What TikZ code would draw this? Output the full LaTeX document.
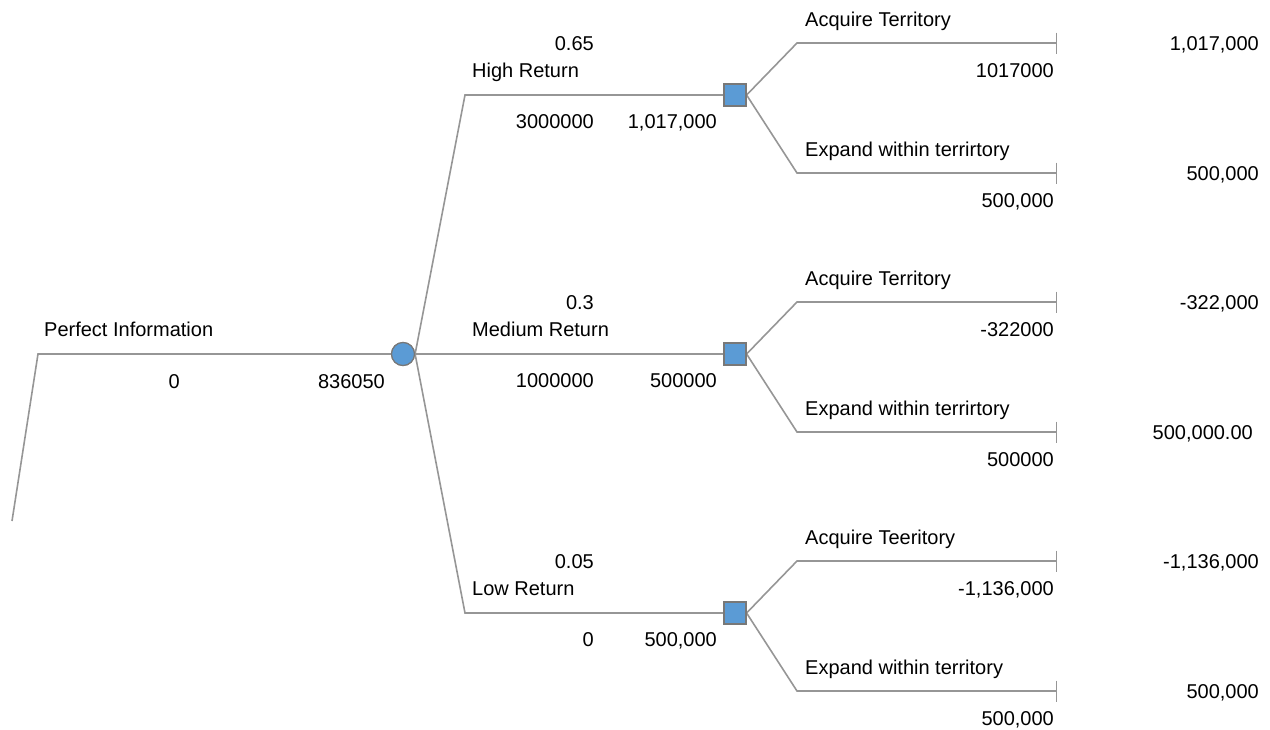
\documentclass[tikz,border=0pt]{standalone}
\usepackage{fontspec}
\setmainfont{Liberation Sans}
\usetikzlibrary{arrows.meta}
\definecolor{lineg}{RGB}{150,150,150}
\definecolor{nodeb}{RGB}{91,155,213}
\definecolor{nodeg}{RGB}{120,120,120}
\begin{document}
\begin{tikzpicture}[x=1pt,y=-1pt, font=\fontsize{20}{23}\selectfont,
  branch/.style={draw=lineg, line width=1.6pt},
  chance/.style={circle, fill=nodeb, draw=nodeg, line width=1.2pt, minimum size=23pt, inner sep=0pt},
  decision/.style={rectangle, fill=nodeb, draw=nodeg, line width=1.2pt, minimum size=22pt, inner sep=0pt},
  lbl/.style={inner sep=0pt, anchor=base west},
  val/.style={inner sep=0pt, anchor=base east},
  endtick/.style={-{Bar[width=21pt,line width=1.4pt]}}
]
\useasboundingbox (0,0) rectangle (1270,729);
% structure
\coordinate (root) at (12,521);
\coordinate (rc) at (38,354);
\node[chance] (ch) at (403,354) {};
\coordinate (hc) at (465,95);
\coordinate (lc) at (465,613);
\node[decision] (dh) at (735,95) {};
\node[decision] (dm) at (735,354) {};
\node[decision] (dl) at (735,613) {};
\coordinate (hac) at (797,43);  \coordinate (hat) at (1057,43);
\coordinate (hec) at (797,173); \coordinate (het) at (1057,173);
\coordinate (mac) at (797,302); \coordinate (mat) at (1057,302);
\coordinate (mec) at (797,432); \coordinate (met) at (1057,432);
\coordinate (lac) at (797,561); \coordinate (lat) at (1057,561);
\coordinate (lec) at (797,691); \coordinate (lxt) at (1057,691);
% connectors
\draw[branch] (root) -- (rc) -- (ch.west);
\draw[branch] (ch.east) -- (hc) -- (dh.west);
\draw[branch] (ch.east) -- (dm.west);
\draw[branch] (ch.east) -- (lc) -- (dl.west);
\draw[branch, endtick] (dh.east) -- (hac) -- (hat);
\draw[branch, endtick] (dh.east) -- (hec) -- (het);
\draw[branch, endtick] (dm.east) -- (mac) -- (mat);
\draw[branch, endtick] (dm.east) -- (mec) -- (met);
\draw[branch, endtick] (dl.east) -- (lac) -- (lat);
\draw[branch, endtick] (dl.east) -- (lec) -- (lxt);
% redraw nodes on top
\node[chance] at (ch) {};
\node[decision] at (dh) {};
\node[decision] at (dm) {};
\node[decision] at (dl) {};
% root labels
\node[lbl] (tpi) at (44,336) {Perfect Information};
\node[val] (tv0) at (180,388) {0};
\node[val] (tev) at (385,388) {836050};
% high
\node[val] (hp) at (594,50) {0.65};
\node[lbl] (hn) at (472,77) {High Return};
\node[val] (hv) at (594,128) {3000000};
\node[val] (he) at (717,128) {1,017,000};
% medium
\node[val] (mp) at (594,309) {0.3};
\node[lbl] (mn) at (472,336) {Medium Return};
\node[val] (mv) at (594,387) {1000000};
\node[val] (me) at (717,387) {500000};
% low
\node[val] (lp) at (594,568) {0.05};
\node[lbl] (ln) at (472,595) {Low Return};
\node[val] (lv) at (594,646) {0};
\node[val] (le) at (717,646) {500,000};
% high decisions
\node[lbl] (han) at (805,26) {Acquire Territory};
\node[val] (hav) at (1054,77) {1017000};
\node[val] (hat2) at (1259,50) {1,017,000};
\node[lbl] (hen) at (805,156) {Expand within terrirtory};
\node[val] (hev) at (1054,207) {500,000};
\node[val] (het2) at (1259,180) {500,000};
% medium decisions
\node[lbl] (man) at (805,285) {Acquire Territory};
\node[val] (mav) at (1054,336) {-322000};
\node[val] (mat2) at (1259,309) {-322,000};
\node[lbl] (men) at (805,415) {Expand within terrirtory};
\node[val] (mev) at (1054,466) {500000};
\node[val] (met2) at (1253,439) {500,000.00};
% low decisions
\node[lbl] (lan) at (805,544) {Acquire Teeritory};
\node[val] (lav) at (1054,595) {-1,136,000};
\node[val] (lat2) at (1259,568) {-1,136,000};
\node[lbl] (len) at (805,674) {Expand within territory};
\node[val] (lev) at (1054,725) {500,000};
\node[val] (lxt2) at (1259,698) {500,000};
\end{tikzpicture}
\end{document}
